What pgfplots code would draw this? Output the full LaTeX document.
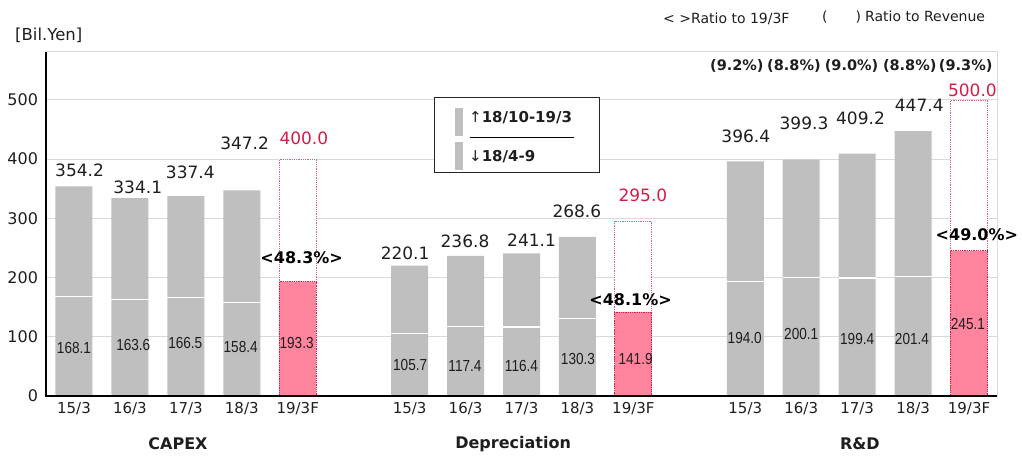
\documentclass[border=0pt]{standalone}
\usepackage{pgfplots}
\pgfplotsset{compat=1.18}
\usepackage{fontspec}
\setmainfont{DejaVu Sans}
\newfontfamily\narrowfont[FakeStretch=0.85]{Liberation Sans}
\definecolor{bargray}{RGB}{191,191,191}
\definecolor{fpink}{RGB}{255,132,158}
\definecolor{fred}{RGB}{212,28,72}
\definecolor{gridgray}{RGB}{217,217,217}
\definecolor{txt}{RGB}{30,30,30}
\newcommand{\fs}[1]{\fontsize{#1}{#1}\selectfont}
\begin{document}
\begin{tikzpicture}
\useasboundingbox (-46pt,-60pt) rectangle (976pt,396pt);
\begin{axis}[
  name=ax, at={(0,0)}, anchor=south west,
  scale only axis, width=951pt, height=344pt,
  xmin=-0.5, xmax=16.5, ymin=0, ymax=581,
  xtick={0,1,2,3,4,6,7,8,9,10,12,13,14,15,16},
  xticklabels={15/3,16/3,17/3,18/3,19/3F,15/3,16/3,17/3,18/3,19/3F,15/3,16/3,17/3,18/3,19/3F},
  ytick={0,100,200,300,400,500},
  ymajorgrids, major grid style={draw=gridgray, line width=1pt},
  axis line style={draw=gridgray, line width=1pt},
  tick style={draw=none},
  yticklabel style={font=\fs{16}, text=txt, xshift=-4.5pt},
  xticklabel style={font=\fs{15}, text=txt, yshift=-3pt},
  /pgf/number format/assume math mode=true,
  clip=false,
]
% gray totals
\addplot[ybar, bar width=37pt, bar shift=0pt, fill=bargray, draw=none] coordinates {
 (0,354.2) (1,334.1) (2,337.4) (3,347.2)
 (6,220.1) (7,236.8) (8,241.1) (9,268.6)
 (12,396.4) (13,399.3) (14,409.2) (15,447.4)};
% H1 dividers
\addplot[draw=none, mark=none, forget plot,
  error bars/x dir=both, error bars/x fixed=0.331, error bars/error mark=none,
  error bars/error bar style={draw=white, line width=1.2pt, solid}] coordinates {
 (0,168.1) (1,163.6) (2,166.5) (3,158.4)
 (6,105.7) (7,117.4) (8,116.4) (9,130.3)
 (12,194.0) (13,200.1) (14,199.4) (15,201.4)};
% forecast totals
\addplot[ybar, bar width=37pt, bar shift=0pt, fill=white, draw=fred!70, densely dotted, line width=0.8pt] coordinates {
 (4,400.0) (10,295.0) (16,500.0)};
% forecast H1
\addplot[ybar, bar width=37pt, bar shift=0pt, fill=fpink, draw=fred, densely dotted, line width=0.8pt] coordinates {
 (4,193.3) (10,141.9) (16,245.1)};
% black axis lines
\draw[black, line width=1.6pt] (rel axis cs:0,1) -- (rel axis cs:0,0) -- (rel axis cs:1,0);
% top labels
\begin{scope}[every node/.style={font=\fs{17}, text=txt, inner sep=0pt}]
\node at (axis cs:0.10,382) {354.2};
\node at (axis cs:1.14,353) {334.1};
\node at (axis cs:2.08,377) {337.4};
\node at (axis cs:3.05,427) {347.2};
\node at (axis cs:5.92,241.6) {220.1};
\node at (axis cs:6.99,261) {236.8};
\node at (axis cs:8.18,262.7) {241.1};
\node at (axis cs:8.99,312) {268.6};
\node at (axis cs:12.01,438) {396.4};
\node at (axis cs:13.05,460) {399.3};
\node at (axis cs:14.06,469) {409.2};
\node at (axis cs:15.11,491.5) {447.4};
\node[text=fred] at (axis cs:4.11,436) {400.0};
\node[text=fred] at (axis cs:10.17,338.7) {295.0};
\node[text=fred] at (axis cs:16.06,517) {500.0};
\end{scope}
% inner labels
\begin{scope}[every node/.style={font=\narrowfont\fs{16}, text=txt, inner sep=0pt}]
\node at (axis cs:0.00,81) {168.1};
\node at (axis cs:1.06,86) {163.6};
\node at (axis cs:1.99,89) {166.5};
\node at (axis cs:2.98,83) {158.4};
\node at (axis cs:3.98,90) {193.3};
\node at (axis cs:6.01,52) {105.7};
\node at (axis cs:6.99,51.5) {117.4};
\node at (axis cs:8.00,50.7) {116.4};
\node at (axis cs:9.01,62.5) {130.3};
\node at (axis cs:10.04,61.7) {141.9};
\node at (axis cs:11.99,98) {194.0};
\node at (axis cs:13.00,104) {200.1};
\node at (axis cs:14.00,96) {199.4};
\node at (axis cs:14.98,96) {201.4};
\node at (axis cs:15.98,121) {245.1};
\end{scope}
% ratio to 19/3F
\begin{scope}[every node/.style={font=\bfseries\fs{16}, text=black, inner sep=0pt}]
\node at (axis cs:4.07,234) {<48.3\%>};
\node at (axis cs:9.95,162) {<48.1\%>};
\node at (axis cs:16.14,272) {<49.0\%>};
\end{scope}
% ratio to revenue
\begin{scope}[every node/.style={font=\bfseries\fs{14.5}, text=txt, inner sep=0pt}]
\node at (axis cs:11.85,557) {(9.2\%)};
\node at (axis cs:12.87,557) {(8.8\%)};
\node at (axis cs:13.90,557) {(9.0\%)};
\node at (axis cs:14.94,557) {(8.8\%)};
\node at (axis cs:15.94,557) {(9.3\%)};
\end{scope}
% group labels
\begin{scope}[every node/.style={font=\bfseries\fs{16}, text=txt, inner sep=0pt}]
\node at ([yshift=-48pt]axis cs:1.86,0) {CAPEX};
\node at ([yshift=-48pt]axis cs:7.85,0) {Depreciation};
\node at ([yshift=-48pt]axis cs:14.05,0) {R\&D};
\end{scope}
\end{axis}
% y unit
\node[anchor=west, inner sep=0pt, font=\fs{16.5}, text=txt] at (-31pt,360.5pt) {[Bil.Yen]};
% top right notes
\node[anchor=west, inner sep=0pt, font=\fs{14}, text=txt] at (617pt,377pt) {< >Ratio to 19/3F};
\node[anchor=west, inner sep=0pt, font=\fs{14}, text=txt] at (776pt,379pt) {(\hspace{28pt})\hspace{4pt}Ratio to Revenue};
% legend box
\draw[black!85, line width=0.9pt, fill=white] (388pt,299pt) rectangle (553pt,224pt);
\fill[bargray] (409pt,288pt) rectangle (417pt,260pt);
\fill[bargray] (409pt,254pt) rectangle (417pt,226pt);
\draw[black, line width=1pt] (424pt,259pt) -- (528pt,259pt);
\node[anchor=west, inner sep=0pt, font=\fs{15}, text=txt] at (423pt,278pt) {↑\textbf{18/10-19/3}};
\node[anchor=west, inner sep=0pt, font=\fs{15}, text=txt] at (423pt,239pt) {↓\textbf{18/4-9}};
\end{tikzpicture}
\end{document}
